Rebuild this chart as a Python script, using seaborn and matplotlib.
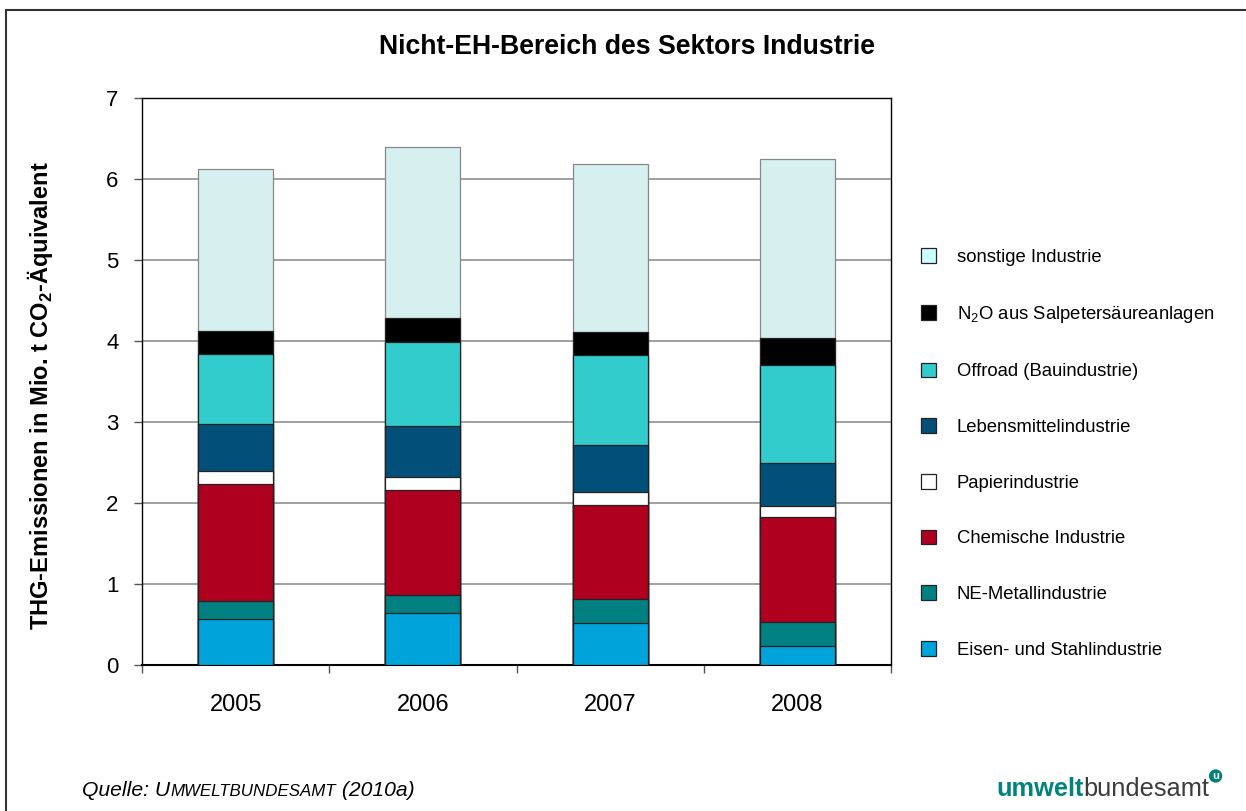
import matplotlib
matplotlib.use('Agg')
import matplotlib.pyplot as plt
import seaborn as sns
import numpy as np
import pandas as pd
from matplotlib.patches import Patch
from matplotlib.lines import Line2D

# data (Mio. t CO2-Aequivalent)
years = ['2005', '2006', '2007', '2008']
eisen_stahl = [0.57, 0.64, 0.52, 0.23]
ne_metall = [0.22, 0.22, 0.29, 0.30]
chemie = [1.45, 1.30, 1.17, 1.30]
papier = [0.16, 0.16, 0.15, 0.13]
lebensmittel = [0.57, 0.63, 0.59, 0.53]
offroad = [0.87, 1.04, 1.11, 1.21]
n2o = [0.28, 0.29, 0.28, 0.34]
sonstige = [2.00, 2.12, 2.08, 2.21]

labels = ['Eisen- und Stahlindustrie', 'NE-Metallindustrie', 'Chemische Industrie',
          'Papierindustrie', 'Lebensmittelindustrie', 'Offroad (Bauindustrie)',
          'N$_\\mathregular{2}$O aus Salpetersäureanlagen', 'sonstige Industrie']
colors = ['#00A3DA', '#008080', '#B0001F', '#FFFFFF', '#02507A', '#33CCCC', '#000000', '#D6EFEF']
legend_colors = colors[:-1] + ['#CCFFFF']

sns.set_style('white')
plt.rcParams['font.family'] = ['Liberation Sans', 'DejaVu Sans']
plt.rcParams['mathtext.fontset'] = 'custom'
plt.rcParams['mathtext.rm'] = 'Liberation Sans'
plt.rcParams['mathtext.bf'] = 'Liberation Sans:bold'
for k in ['text.color', 'axes.labelcolor', 'xtick.color', 'ytick.color']:
    plt.rcParams[k] = 'black'

df = pd.DataFrame({'year': years, 'Eisen': eisen_stahl, 'NE': ne_metall, 'Chemie': chemie,
                   'Papier': papier, 'Lebensmittel': lebensmittel, 'Offroad': offroad,
                   'N2O': n2o, 'sonstige': sonstige})
series = ['Eisen', 'NE', 'Chemie', 'Papier', 'Lebensmittel', 'Offroad', 'N2O', 'sonstige']
cum = df[series].cumsum(axis=1)

fig = plt.figure(figsize=(12.46, 8.11), dpi=100)
ax = fig.add_axes([0.114, 0.18, 0.6011, 0.6992])

# stacked bars: draw the cumulative totals from the top down
for i in reversed(range(len(series))):
    ec = '#888888' if series[i] == 'sonstige' else '#222222'
    sns.barplot(x=df['year'], y=cum[series[i]], color=colors[i], saturation=1,
                width=0.4, edgecolor=ec, linewidth=0.9, ax=ax, zorder=3)

ax.set_xlim(-0.5, 3.5)
ax.set_ylim(0, 7)
ax.set_yticks(range(8))
ax.yaxis.grid(True, color='#999999', linewidth=1.3, zorder=0)
ax.set_axisbelow(True)
ax.set_xlabel('')
ax.set_ylabel('')
for s in ax.spines.values():
    s.set_color('black')
    s.set_linewidth(1.0)
ax.spines['bottom'].set_linewidth(1.5)
ax.tick_params(axis='y', direction='out', length=6, width=1, color='#555555',
               labelsize=16, pad=11, left=True)
ax.tick_params(axis='x', which='major', length=0, labelsize=17, pad=21)
ax.set_xticks([-0.5, 0.5, 1.5, 2.5, 3.5], minor=True)
ax.tick_params(axis='x', which='minor', direction='out', length=6, width=1,
               color='#555555', bottom=True)

handles = [Patch(facecolor=legend_colors[i], edgecolor='#222222', linewidth=0.9)
           for i in reversed(range(len(series)))]
fig.legend(handles, list(reversed(labels)), loc='center left',
           bbox_to_anchor=(0.739, 0.441), frameon=False, fontsize=13.3,
           handlelength=0.85, handleheight=0.85, handletextpad=1.1,
           labelspacing=2.05, borderpad=0, borderaxespad=0)

fig.text(0.503, 0.942, 'Nicht-EH-Bereich des Sektors Industrie', ha='center', va='center',
         fontsize=19.2, fontweight='bold')
fig.text(0.032, 0.512, 'THG-Emissionen in Mio. t CO$_\\mathbf{2}$-Äquivalent', rotation=90,
         ha='center', va='center', fontsize=17, fontweight='bold')

# source line with small caps
fig.canvas.draw()
r = fig.canvas.get_renderer()
x = 82 / 1246
for txt, size in [('Quelle: U', 15.2), ('MWELTBUNDESAMT', 12.2), (' (2010a)', 15.2)]:
    t = fig.text(x, 1 - 796 / 811, txt, fontsize=size, style='italic', ha='left', va='baseline')
    bb = t.get_window_extent(renderer=r)
    x += bb.width / 1246

# logo
x = 996 / 1246
for txt, w, c in [('umwelt', 'bold', '#00837D'), ('bundesamt', 'normal', '#3C3C3C')]:
    t = fig.text(x, 1 - 796 / 811, txt, fontsize=18.3, fontweight=w, color=c,
                 ha='left', va='baseline')
    bb = t.get_window_extent(renderer=r)
    x += bb.width / 1246
fig.text(x + 0.005, 1 - 776 / 811, 'u', fontsize=8, fontweight='bold', color='white',
         ha='center', va='center',
         bbox=dict(boxstyle='circle,pad=0.15', facecolor='#00837D', edgecolor='none'))

# outer frame (top and left edge)
fig.add_artist(Line2D([6 / 1246, 1.0], [1 - 10 / 811, 1 - 10 / 811], color='#333333', linewidth=1.5))
fig.add_artist(Line2D([6 / 1246, 6 / 1246], [0.0, 1 - 10 / 811], color='#333333', linewidth=1.5))

plt.savefig('out.png', dpi=100)
